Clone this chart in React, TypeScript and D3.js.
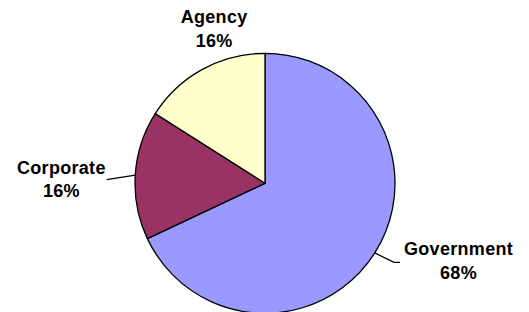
import { useRef, useEffect } from 'react'
import * as d3 from 'd3'

// slice data, clockwise from 12 o'clock
const categories = ["Government", "Corporate", "Agency"]
const shares = [68, 16, 16]
const colors = ["#9999FF", "#993366", "#FFFFCC"]

// label placement tweaks (Excel "best fit" style), relative to the label arc
const labelNudge: Record<string, [number, number]> = {
  Government: [50, -14],
  Corporate: [-34, 6],
  Agency: [31, -6],
}
const withLeader = new Set(["Government", "Corporate"])

interface Slice {
  name: string
  value: number
  color: string
}

export default function App() {
  const svgRef = useRef<SVGSVGElement>(null)
  const width = 529
  const height = 312

  useEffect(() => {
    if (!svgRef.current) return
    const svg = d3.select(svgRef.current)
    svg.selectAll("*").remove()

    const data: Slice[] = categories.map((name, i) => ({ name, value: shares[i], color: colors[i] }))

    const cx = 265
    const cy = 183.3
    const radius = 130

    const pie = d3.pie<Slice>()
      .value(d => d.value)
      .sort(null)
      .startAngle(0)
      .endAngle(Math.PI * 2)

    const arcs = pie(data)

    const arc = d3.arc<d3.PieArcDatum<Slice>>()
      .innerRadius(0)
      .outerRadius(radius)

    const g = svg.append("g").attr("transform", `translate(${cx},${cy})`)

    // slices
    g.selectAll("path.slice")
      .data(arcs)
      .enter()
      .append("path")
      .attr("class", "slice")
      .attr("d", arc)
      .style("fill", d => d.data.color)
      .style("stroke", "#000")
      .style("stroke-width", "1.3px")
      .style("stroke-linejoin", "round")

    const labelR = 170
    const polar = (a: number, r: number): [number, number] => [r * Math.sin(a), -r * Math.cos(a)]

    arcs.forEach(d => {
      const mid = (d.startAngle + d.endAngle) / 2
      const [px, py] = polar(mid, labelR)
      const [nx, ny] = labelNudge[d.data.name] || [0, 0]
      const lx = px + nx
      const ly = py + ny

      const label = g.append("text")
        .attr("text-anchor", "middle")
        .style("font-family", "'Liberation Sans', Arial, sans-serif")
        .style("font-weight", "bold")
        .style("font-size", "18px")
        .style("letter-spacing", "0.3px")
        .style("fill", "#000")

      label.append("tspan").attr("x", lx).attr("y", ly - 5).text(d.data.name)
      label.append("tspan").attr("x", lx).attr("y", ly + 18.5).text(`${Math.round(d.value)}%`)

      if (withLeader.has(d.data.name)) {
        const bb = (label.node() as SVGTextElement).getBBox()
        const [sx, sy] = polar(mid, radius)
        const right = lx > 0
        const edgeX = right ? bb.x - 4 : bb.x + bb.width + 1
        const pts: [number, number][] = right
          ? [[sx, sy], [edgeX - 6, ly + 2], [edgeX, ly + 2]]
          : [[sx, sy], [edgeX, ly + 1]]
        g.append("path")
          .attr("d", d3.line()(pts))
          .style("fill", "none")
          .style("stroke", "#000")
          .style("stroke-width", "1.3px")
      }
    })
  }, [])

  return (
    <svg
      ref={svgRef}
      width={width}
      height={height}
      style={{ position: 'absolute', left: 0, top: 0, background: '#fff' }}
    />
  )
}
